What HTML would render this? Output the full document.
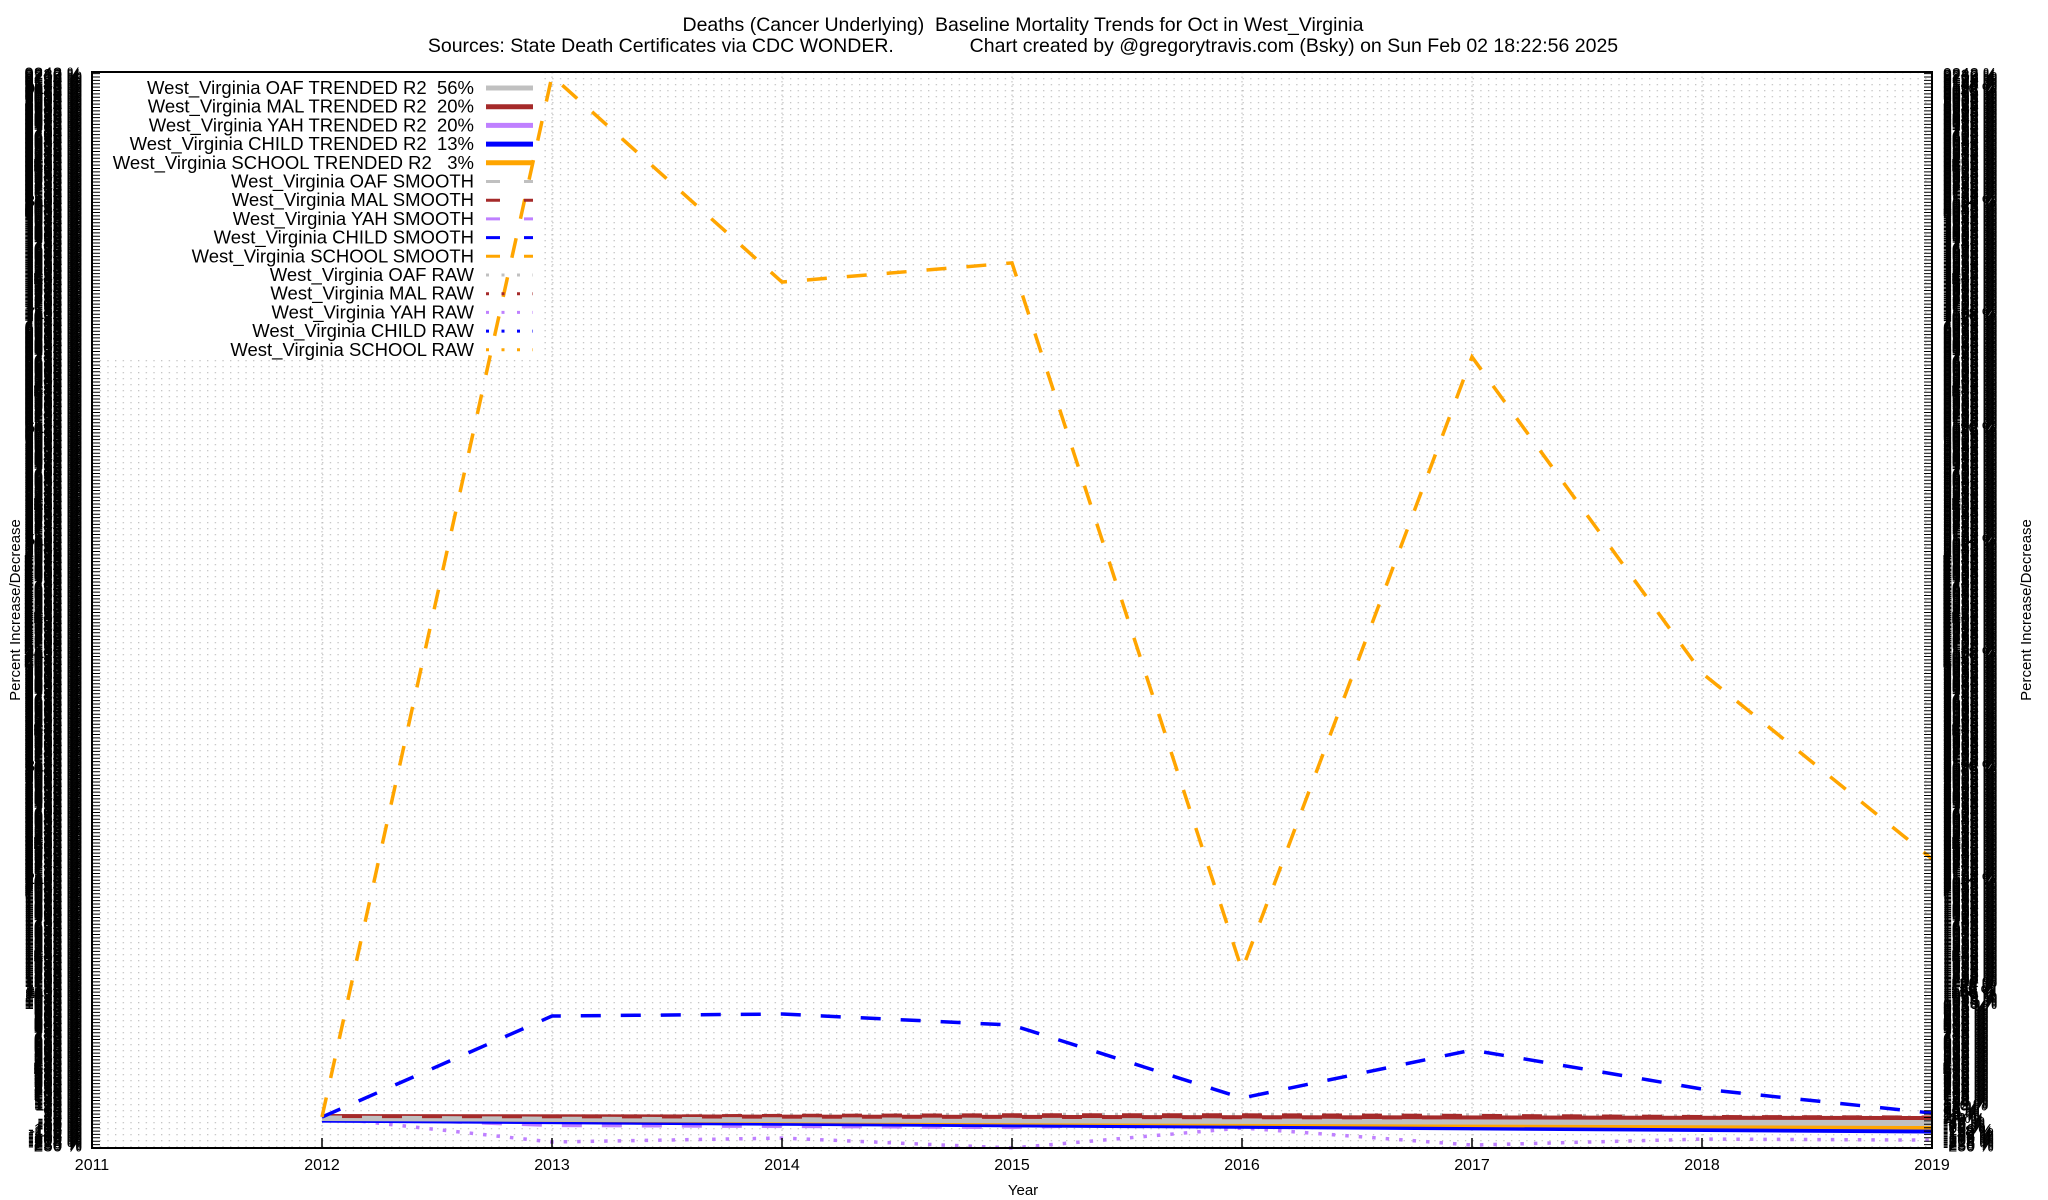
<!DOCTYPE html>
<html><head><meta charset="utf-8"><style>
html,body{margin:0;padding:0;background:#fff;}
svg{display:block;font-family:"Liberation Sans",sans-serif;}
text{white-space:pre;}
</style></head><body>
<svg id="chart" width="2048" height="1200" viewBox="0 0 2048 1200" xmlns="http://www.w3.org/2000/svg">
<defs>
<pattern id="dots" x="92" y="72" width="7.67" height="6" patternUnits="userSpaceOnUse">
<rect x="0" y="0" width="1.3" height="1.3" fill="#c4c4c4"/>
</pattern>
</defs>
<rect x="0" y="0" width="2048" height="1200" fill="#fff"/>
<rect x="92" y="72" width="1840" height="1076" fill="url(#dots)"/>
<g id="majorgrid"></g>
<rect x="93" y="73" width="449" height="287" fill="#fff"/>
<g id="series"></g>
<g id="axes"></g>
<g id="legend"></g>
<text x="1023" y="31" font-size="19.5" text-anchor="middle">Deaths (Cancer Underlying)  Baseline Mortality Trends for Oct in West_Virginia</text>
<text x="1023" y="52" font-size="19.5" text-anchor="middle">Sources: State Death Certificates via CDC WONDER.              Chart created by @gregorytravis.com (Bsky) on Sun Feb 02 18:22:56 2025</text>
<text x="1023" y="1195" font-size="15" text-anchor="middle">Year</text>
<text transform="translate(20,610) rotate(-90)" font-size="15" text-anchor="middle">Percent Increase/Decrease</text>
<text transform="translate(2031,610) rotate(-90)" font-size="15" text-anchor="middle">Percent Increase/Decrease</text>
</svg>
<script>
const years = [2012, 2013, 2014, 2015, 2016, 2017, 2018, 2019];
const xTicks = [2011, 2012, 2013, 2014, 2015, 2016, 2017, 2018, 2019];
const schoolSmooth = [0, 9215, 7391, 7560, 1301, 6728, 3930, 2284];
const childSmooth = [0, 894, 912, 814, 168, 593, 248, 35];
const yahSmooth = [0, -71, -80, -89, -44, -40, -40, -40];
const malSmooth = [0, 5, 15, 20, 20, 15, 5, 0];
const oafSmooth = [0, -10, -15, -20, -25, -35, -45, -50];
const yahRaw = [0, -221, -186, -274, -97, -248, -195, -204];
const oafRaw = [0, 10, 20, 25, 25, 20, 10, 0];
const trendYears = [2012, 2019];
const oafTrend = [-9, -53];
const malTrend = [9, -9];
const yahTrend = [-27, -62];
const childTrend = [-27, -124];
const schoolTrend = [-9, -89];
const yMin = -274, yMax = 9250;
const legendLabels = ["West_Virginia OAF TRENDED R2  56%","West_Virginia MAL TRENDED R2  20%","West_Virginia YAH TRENDED R2  20%","West_Virginia CHILD TRENDED R2  13%","West_Virginia SCHOOL TRENDED R2   3%","West_Virginia OAF SMOOTH","West_Virginia MAL SMOOTH","West_Virginia YAH SMOOTH","West_Virginia CHILD SMOOTH","West_Virginia SCHOOL SMOOTH","West_Virginia OAF RAW","West_Virginia MAL RAW","West_Virginia YAH RAW","West_Virginia CHILD RAW","West_Virginia SCHOOL RAW"];

const NS = "http://www.w3.org/2000/svg";
const X0 = 92, X1 = 1932, Y0 = 1148, Y1 = 72;
function xs(yr){ return X0 + (yr - xTicks[0]) / (xTicks[xTicks.length-1] - xTicks[0]) * (X1 - X0); }
function ys(v){ return Y0 - (v - yMin) / (yMax - yMin) * (Y0 - Y1); }
function mk(tag, parent){ const e = document.createElementNS(NS, tag); parent.appendChild(e); return e; }

const grid = document.getElementById('majorgrid');
xTicks.forEach(t => {
  const l = mk('line', grid);
  
  
  l.setAttribute('x1', xs(t)); l.setAttribute('x2', xs(t));
  l.setAttribute('y1', Y1); l.setAttribute('y2', Y0);
  l.setAttribute('stroke', '#bbb'); l.setAttribute('stroke-dasharray', '1.5,3');
});

const series = document.getElementById('series');
function line(xv, vals, color, width, dash, name){
  const p = mk('polyline', series);
  
  
  p.setAttribute('points', vals.map((v,i) => xs(xv[i]) + ',' + ys(v)).join(' '));
  p.setAttribute('fill', 'none'); p.setAttribute('stroke', color);
  p.setAttribute('stroke-width', width);
  if (dash) p.setAttribute('stroke-dasharray', dash);
}
line(years, oafRaw, '#c0c0c0', 3, '3,10', 'oaf-raw-line');
line(years, yahRaw, '#bf80ff', 3.5, '3.5,10', 'yah-raw-line');
line(years, yahSmooth, '#bf80ff', 4, '20,20', 'yah-smooth-line');
line(trendYears, yahTrend, '#bf80ff', 5, null, 'yah-trend-line');
line(trendYears, childTrend, '#0000ff', 5, null, 'child-trend-line');
line(trendYears, schoolTrend, '#ffa500', 5, null, 'school-trend-line');
line(trendYears, oafTrend, '#c0c0c0', 6, null, 'oaf-trend-line');
line(trendYears, malTrend, '#a52a2a', 4, null, 'mal-trend-line');
line(years, malSmooth, '#a52a2a', 3, '20,20', 'mal-smooth-line');
line(years, oafSmooth, '#c0c0c0', 3, '20,20', 'oaf-smooth-line');
line(years, childSmooth, '#0000ff', 3.5, '20,20', 'child-smooth-line');
line(years, schoolSmooth, '#ffa500', 3.5, '20,20', 'school-smooth-line');

const axes = document.getElementById('axes');
const frame = mk('rect', axes);


frame.setAttribute('x', X0); frame.setAttribute('y', Y1);
frame.setAttribute('width', X1 - X0); frame.setAttribute('height', Y0 - Y1);
frame.setAttribute('fill', 'none'); frame.setAttribute('stroke', '#000'); frame.setAttribute('stroke-width', 2);

xTicks.forEach(t => {
  const tk = mk('line', axes);
  
  
  tk.setAttribute('x1', xs(t)); tk.setAttribute('x2', xs(t));
  tk.setAttribute('y1', Y0); tk.setAttribute('y2', Y0 - 10);
  tk.setAttribute('stroke', '#000'); tk.setAttribute('stroke-width', 1.5);
  const lb = mk('text', axes);
  
  
  lb.setAttribute('x', xs(t)); lb.setAttribute('y', 1170);
  lb.setAttribute('font-size', 16); lb.setAttribute('text-anchor', 'middle');
  lb.textContent = t;
});

let tickPath = '';
for (let v = yMin; v <= yMax; v += 30) {
  const y = ys(v).toFixed(1);
  tickPath += 'M' + X0 + ' ' + y + 'h8M' + X1 + ' ' + y + 'h-8';
}
const tp = mk('path', axes);


tp.setAttribute('d', tickPath); tp.setAttribute('stroke', '#000'); tp.setAttribute('stroke-width', 1);

for (let v = -250; v <= yMax; v += 12) {
  const y = ys(v) + 6;
  const a = mk('text', axes);
  
  
  a.setAttribute('x', 82); a.setAttribute('y', y);
  a.setAttribute('font-size', 17); a.setAttribute('text-anchor', 'end');
  a.textContent = v + ' %';
  const b = mk('text', axes);
  
  
  b.setAttribute('x', 1943); b.setAttribute('y', y);
  b.setAttribute('font-size', 16);
  b.textContent = v + ' %';
}

const legend = document.getElementById('legend');
const legendColors = ['#c0c0c0','#a52a2a','#bf80ff','#0000ff','#ffa500'];
legendLabels.forEach((lab, i) => {
  const y = 88 + i * 18.7;
  const t = mk('text', legend);
  
  
  t.setAttribute('x', 474); t.setAttribute('y', y + 6);
  t.setAttribute('font-size', 18.5); t.setAttribute('text-anchor', 'end');
  t.textContent = lab;
  const s = mk('line', legend);
  
  
  s.setAttribute('x1', 486); s.setAttribute('x2', 533);
  s.setAttribute('y1', y); s.setAttribute('y2', y);
  s.setAttribute('stroke', legendColors[i % 5]);
  const kind = Math.floor(i / 5);
  if (kind === 0) { s.setAttribute('stroke-width', 5); }
  else if (kind === 1) { s.setAttribute('stroke-width', 3); s.setAttribute('stroke-dasharray', '14,24'); }
  else { s.setAttribute('stroke-width', 3); s.setAttribute('stroke-dasharray', '3,12.5'); }
});
</script>
</body></html>
